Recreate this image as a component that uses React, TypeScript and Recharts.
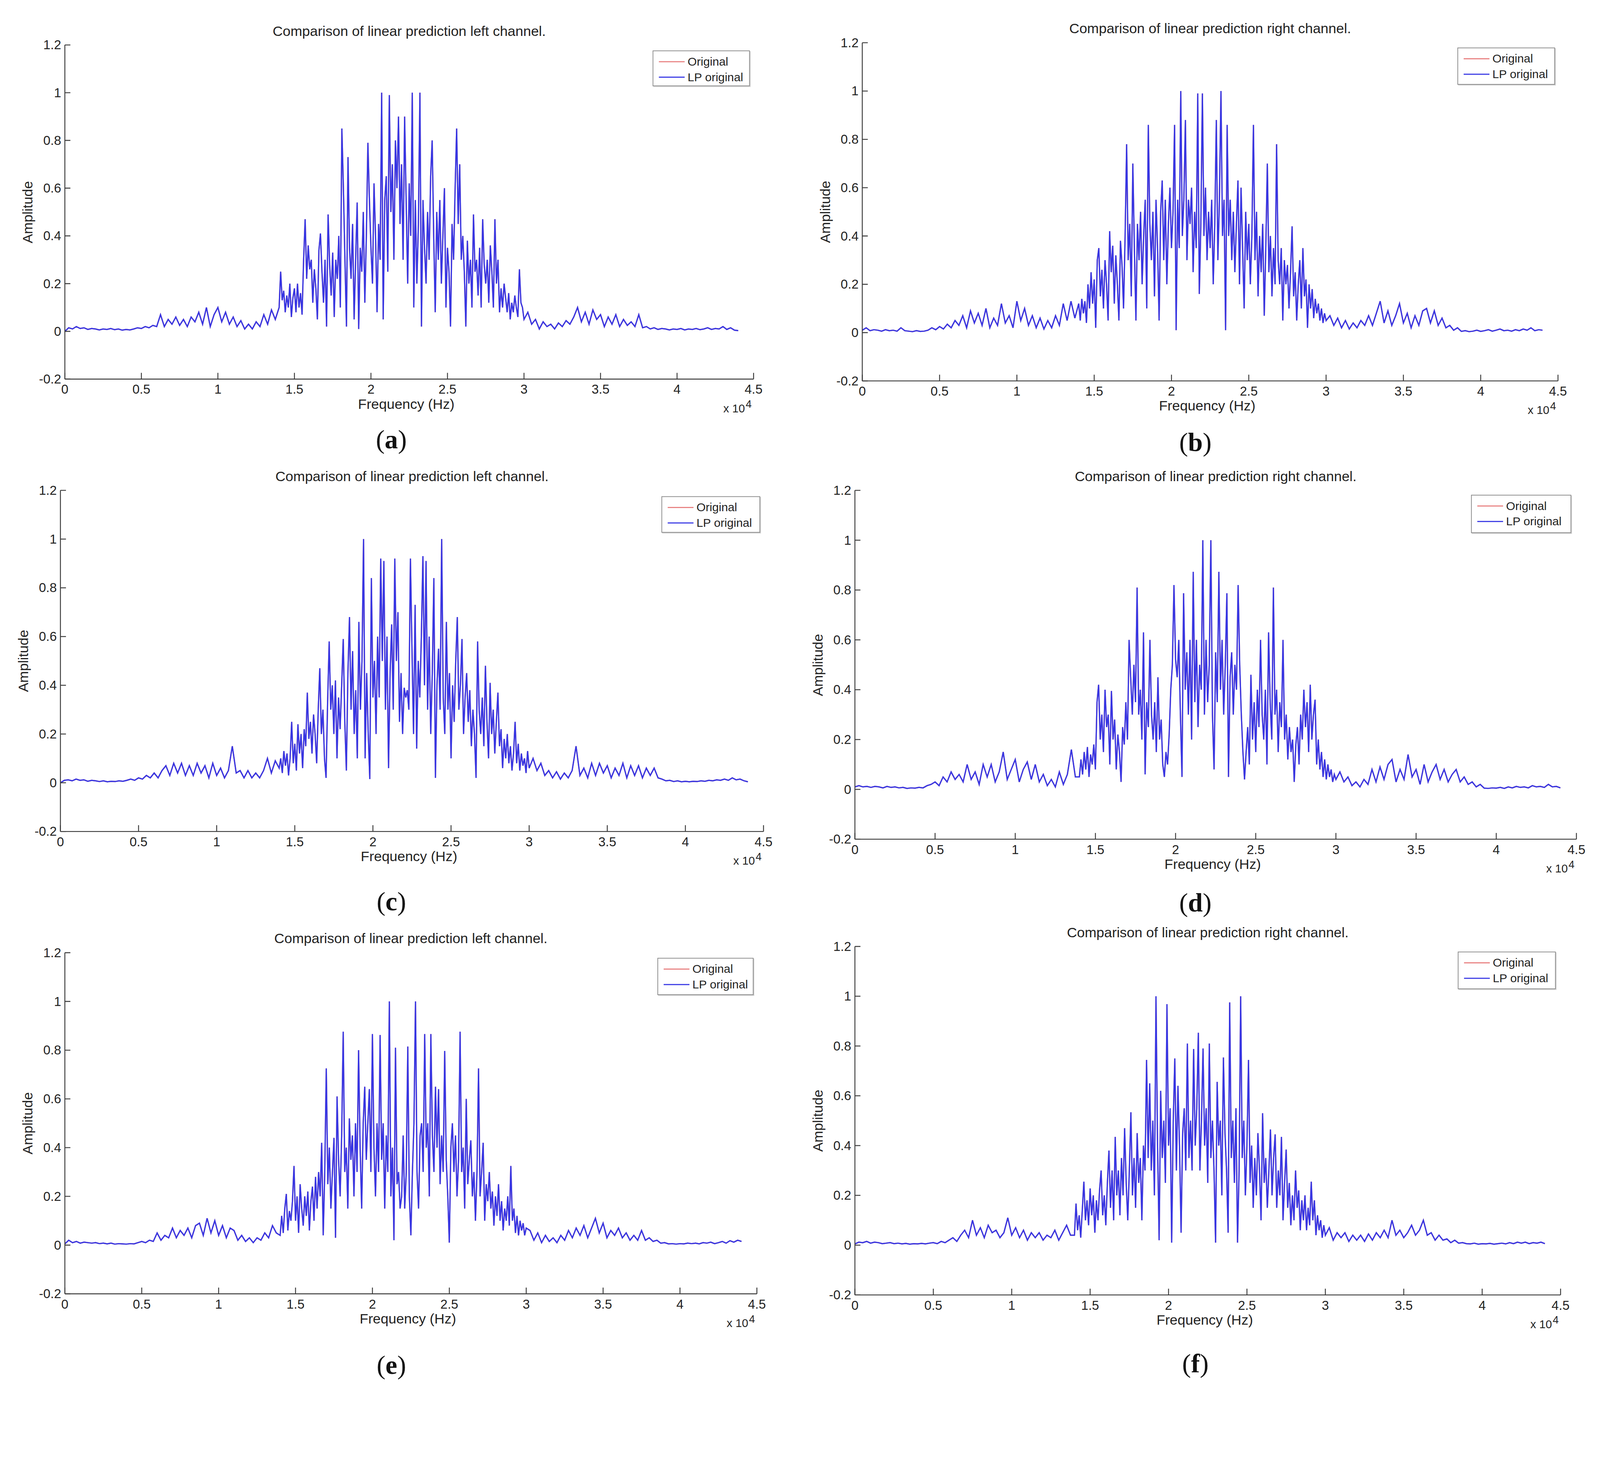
import React from 'react';
import { LineChart, Line, XAxis, YAxis } from 'recharts';

// ---------- tick values and labels ----------
const X_TICKS = [0, 5000, 10000, 15000, 20000, 25000, 30000, 35000, 40000, 45000];
const X_TICK_LABELS = ['0', '0.5', '1', '1.5', '2', '2.5', '3', '3.5', '4', '4.5'];
const Y_TICKS = [-0.2, 0, 0.2, 0.4, 0.6, 0.8, 1, 1.2];
const Y_TICK_LABELS = ['-0.2', '0', '0.2', '0.4', '0.6', '0.8', '1', '1.2'];

const TITLE_LEFT = 'Comparison of linear prediction left channel.';
const TITLE_RIGHT = 'Comparison of linear prediction right channel.';
const X_LABEL = 'Frequency (Hz)';
const Y_LABEL = 'Amplitude';
const LEGEND_NAMES = ['Original', 'LP original'];

// sampling grid (Hz): low tail 0..13750 every 250, core 14000..30000 every 100, high tail 30250..44000 every 250
const LOW_STEP = 250;
const CORE_START = 14000;
const CORE_STEP = 100;
const HIGH_START = 30250;
const HIGH_STEP = 250;

// ---------- (a) left channel ----------
const A_LOW = [0.0,0.015,0.01,0.02,0.012,0.015,0.008,0.012,0.01,0.006,0.01,0.008,0.012,0.007,0.01,0.005,0.008,0.006,0.01,0.015,0.012,0.02,0.015,0.025,0.02,0.07,0.02,0.05,0.03,0.06,0.025,0.05,0.02,0.06,0.04,0.08,0.03,0.1,0.02,0.07,0.1,0.04,0.08,0.03,0.06,0.02,0.045,0.01,0.03,0.01,0.04,0.02,0.07,0.03,0.09,0.05];
const A_CORE = [
  0.1,0.25,0.13,0.17,0.08,0.15,0.1,0.2,0.06,0.14,
  0.18,0.08,0.2,0.1,0.16,0.07,0.3,0.47,0.22,0.36,
  0.26,0.3,0.12,0.26,0.18,0.05,0.34,0.41,0.25,0.12,
  0.3,0.02,0.49,0.28,0.15,0.33,0.06,0.3,0.22,0.4,
  0.1,0.85,0.6,0.3,0.02,0.73,0.35,0.22,0.45,0.05,
  0.3,0.54,0.01,0.35,0.25,0.5,0.12,0.4,0.79,0.55,
  0.35,0.2,0.62,0.4,0.08,0.45,0.3,1.0,0.05,0.55,
  0.65,0.25,0.99,0.5,0.7,0.3,0.8,0.6,0.9,0.45,
  0.7,0.3,0.9,0.55,0.2,0.62,0.4,1.0,0.1,0.55,
  0.2,0.45,1.0,0.02,0.55,0.35,0.2,0.5,0.3,0.65,
  0.8,0.4,0.08,0.5,0.3,0.55,0.2,0.4,0.6,0.1,
  0.35,0.25,0.02,0.45,0.3,0.6,0.85,0.45,0.7,0.3,
  0.4,0.25,0.02,0.38,0.2,0.3,0.1,0.49,0.25,0.3,
  0.15,0.35,0.1,0.47,0.28,0.2,0.3,0.12,0.36,0.25,
  0.1,0.47,0.2,0.3,0.08,0.18,0.1,0.2,0.14,0.08,
  0.16,0.05,0.12,0.08,0.15,0.1,0.06,0.26,0.12,0.1,
  0.05];
const A_HIGH = [0.08,0.03,0.05,0.01,0.04,0.02,0.03,0.01,0.035,0.02,0.045,0.03,0.06,0.1,0.04,0.08,0.03,0.09,0.05,0.07,0.02,0.06,0.03,0.07,0.02,0.05,0.025,0.04,0.02,0.07,0.015,0.02,0.01,0.015,0.008,0.012,0.01,0.006,0.01,0.008,0.012,0.006,0.01,0.008,0.012,0.007,0.01,0.015,0.008,0.012,0.01,0.02,0.008,0.015,0.005,0.003];

// ---------- (b) right channel ----------
const B_LOW = [0.01,0.02,0.008,0.012,0.01,0.006,0.012,0.008,0.01,0.006,0.02,0.008,0.006,0.004,0.008,0.005,0.006,0.01,0.02,0.012,0.025,0.015,0.035,0.02,0.05,0.03,0.07,0.02,0.09,0.04,0.08,0.03,0.1,0.02,0.06,0.03,0.12,0.04,0.07,0.02,0.13,0.05,0.1,0.03,0.07,0.02,0.06,0.015,0.05,0.02,0.07,0.03,0.12,0.05,0.13,0.06];
const B_CORE = [
  0.12,0.05,0.14,0.08,0.13,0.04,0.2,0.1,0.25,0.12,
  0.22,0.02,0.3,0.35,0.15,0.26,0.1,0.3,0.2,0.05,
  0.42,0.25,0.36,0.12,0.32,0.2,0.05,0.38,0.28,0.1,
  0.4,0.78,0.3,0.45,0.15,0.7,0.35,0.05,0.45,0.3,
  0.5,0.2,0.4,0.55,0.1,0.86,0.45,0.3,0.5,0.15,
  0.55,0.35,0.05,0.5,0.63,0.3,0.55,0.2,0.45,0.6,
  0.35,0.5,0.86,0.01,0.55,0.35,1.0,0.4,0.55,0.88,
  0.3,0.55,0.45,0.6,0.25,0.5,0.35,0.99,0.16,0.45,
  0.99,0.4,0.6,0.3,0.5,0.35,0.55,0.2,0.45,0.88,
  0.3,0.55,1.0,0.4,0.55,0.01,0.86,0.4,0.55,0.3,
  0.5,0.25,0.45,0.63,0.2,0.6,0.35,0.1,0.5,0.3,
  0.45,0.2,0.4,0.86,0.3,0.5,0.15,0.4,0.25,0.45,
  0.07,0.35,0.7,0.25,0.4,0.15,0.35,0.2,0.78,0.3,
  0.2,0.35,0.05,0.3,0.2,0.28,0.1,0.25,0.44,0.15,
  0.25,0.05,0.2,0.3,0.1,0.35,0.15,0.22,0.02,0.2,
  0.1,0.18,0.06,0.14,0.08,0.12,0.05,0.1,0.04,0.08,
  0.05];
const B_HIGH = [0.07,0.03,0.06,0.02,0.05,0.015,0.04,0.02,0.05,0.03,0.07,0.03,0.08,0.13,0.04,0.09,0.03,0.07,0.12,0.04,0.08,0.02,0.07,0.03,0.09,0.1,0.04,0.09,0.03,0.06,0.02,0.03,0.01,0.02,0.005,0.008,0.004,0.006,0.01,0.005,0.008,0.012,0.006,0.01,0.015,0.008,0.01,0.006,0.012,0.008,0.015,0.01,0.02,0.008,0.012,0.01];

// ---------- (c) left channel ----------
const C_LOW = [0.0,0.01,0.012,0.008,0.015,0.01,0.012,0.006,0.01,0.008,0.005,0.008,0.004,0.006,0.005,0.008,0.006,0.01,0.015,0.01,0.02,0.015,0.03,0.02,0.04,0.02,0.05,0.07,0.03,0.08,0.04,0.08,0.03,0.07,0.03,0.08,0.04,0.07,0.02,0.08,0.03,0.06,0.02,0.05,0.15,0.04,0.05,0.02,0.05,0.02,0.04,0.02,0.05,0.1,0.04,0.09];
const C_CORE = [
  0.06,0.1,0.04,0.13,0.07,0.12,0.03,0.1,0.25,0.08,
  0.16,0.05,0.24,0.12,0.2,0.06,0.22,0.15,0.37,0.18,
  0.25,0.12,0.28,0.2,0.08,0.3,0.47,0.2,0.3,0.1,
  0.02,0.33,0.58,0.3,0.4,0.2,0.42,0.1,0.35,0.22,
  0.4,0.59,0.25,0.05,0.45,0.68,0.3,0.54,0.2,0.38,
  0.1,0.66,0.3,0.5,1.0,0.1,0.45,0.2,0.015,0.84,
  0.35,0.5,0.2,0.6,0.35,0.92,0.5,0.91,0.3,0.6,
  0.06,0.45,0.65,0.3,0.92,0.5,0.7,0.25,0.45,0.2,
  0.39,0.35,0.38,0.3,0.92,0.55,0.2,0.73,0.14,0.5,
  0.35,0.6,0.93,0.4,0.91,0.3,0.6,0.2,0.45,0.84,
  0.02,0.4,0.55,0.3,1.0,0.35,0.2,0.66,0.3,0.45,
  0.1,0.4,0.25,0.5,0.68,0.3,0.4,0.59,0.2,0.35,
  0.45,0.25,0.38,0.15,0.3,0.2,0.02,0.58,0.3,0.2,
  0.35,0.15,0.48,0.25,0.1,0.41,0.2,0.3,0.12,0.25,
  0.37,0.15,0.22,0.06,0.18,0.1,0.2,0.08,0.15,0.05,
  0.12,0.25,0.08,0.16,0.05,0.12,0.07,0.1,0.04,0.13,
  0.06];
const C_HIGH = [0.1,0.05,0.08,0.03,0.05,0.02,0.045,0.015,0.04,0.02,0.05,0.15,0.03,0.06,0.02,0.08,0.03,0.08,0.04,0.07,0.02,0.06,0.03,0.08,0.02,0.07,0.03,0.07,0.02,0.06,0.03,0.06,0.02,0.015,0.008,0.01,0.005,0.008,0.004,0.006,0.004,0.006,0.005,0.008,0.006,0.01,0.008,0.012,0.01,0.015,0.01,0.02,0.012,0.015,0.008,0.004];

// ---------- (d) right channel ----------
const D_LOW = [0.01,0.015,0.01,0.012,0.008,0.012,0.01,0.006,0.012,0.008,0.01,0.006,0.008,0.004,0.006,0.005,0.008,0.006,0.015,0.02,0.03,0.015,0.05,0.03,0.07,0.04,0.06,0.03,0.1,0.04,0.07,0.02,0.1,0.05,0.1,0.03,0.07,0.15,0.04,0.08,0.12,0.03,0.08,0.11,0.04,0.1,0.03,0.06,0.015,0.04,0.01,0.07,0.02,0.06,0.16,0.05];
const D_CORE = [
  0.05,0.12,0.06,0.15,0.08,0.17,0.05,0.14,0.1,0.18,
  0.08,0.35,0.42,0.2,0.3,0.15,0.4,0.25,0.3,0.1,
  0.395,0.2,0.28,0.08,0.22,0.15,0.03,0.25,0.18,0.35,
  0.2,0.6,0.45,0.3,0.5,0.35,0.81,0.3,0.4,0.2,
  0.63,0.06,0.35,0.25,0.6,0.3,0.2,0.35,0.15,0.45,
  0.2,0.28,0.1,0.05,0.15,0.1,0.22,0.4,0.5,0.82,
  0.52,0.45,0.6,0.3,0.05,0.787,0.4,0.55,0.3,0.6,
  0.2,0.873,0.35,0.6,0.25,0.5,0.4,1.0,0.3,0.6,
  0.35,0.5,1.0,0.3,0.08,0.55,0.35,0.873,0.4,0.6,
  0.3,0.5,0.787,0.05,0.45,0.55,0.3,0.5,0.4,0.82,
  0.5,0.3,0.15,0.04,0.15,0.25,0.1,0.46,0.2,0.35,
  0.15,0.4,0.25,0.6,0.3,0.2,0.4,0.1,0.63,0.35,
  0.2,0.81,0.3,0.4,0.15,0.35,0.25,0.6,0.2,0.3,
  0.12,0.25,0.15,0.2,0.03,0.18,0.25,0.1,0.3,0.2,
  0.4,0.25,0.35,0.15,0.42,0.2,0.3,0.36,0.1,0.2,
  0.08,0.15,0.05,0.12,0.04,0.1,0.05,0.08,0.03,0.06,
  0.04];
const D_HIGH = [0.07,0.03,0.05,0.015,0.03,0.01,0.04,0.02,0.08,0.03,0.09,0.04,0.1,0.12,0.03,0.08,0.04,0.14,0.05,0.08,0.02,0.1,0.03,0.07,0.1,0.04,0.08,0.03,0.06,0.08,0.03,0.05,0.02,0.03,0.01,0.02,0.005,0.004,0.006,0.005,0.008,0.004,0.01,0.006,0.012,0.008,0.01,0.006,0.015,0.01,0.012,0.008,0.02,0.01,0.012,0.006];

// ---------- (e) left channel ----------
const E_LOW = [0.005,0.02,0.01,0.015,0.008,0.012,0.01,0.008,0.01,0.006,0.008,0.005,0.008,0.004,0.006,0.005,0.004,0.006,0.005,0.01,0.015,0.01,0.02,0.015,0.05,0.02,0.04,0.03,0.07,0.03,0.06,0.04,0.07,0.03,0.08,0.09,0.04,0.11,0.05,0.1,0.04,0.08,0.03,0.07,0.06,0.02,0.04,0.015,0.03,0.01,0.03,0.02,0.05,0.03,0.08,0.05];
const E_CORE = [
  0.04,0.12,0.05,0.15,0.21,0.06,0.14,0.1,0.18,0.325,
  0.1,0.2,0.05,0.25,0.15,0.08,0.2,0.12,0.22,0.06,
  0.18,0.24,0.1,0.28,0.15,0.3,0.2,0.42,0.04,0.3,
  0.725,0.25,0.4,0.15,0.3,0.44,0.03,0.61,0.35,0.2,
  0.45,0.876,0.3,0.4,0.15,0.52,0.35,0.45,0.2,0.5,
  0.3,0.8,0.4,0.15,0.5,0.65,0.35,0.5,0.64,0.3,
  0.866,0.4,0.2,0.5,0.3,0.862,0.35,0.5,0.15,0.45,
  0.3,1.0,0.2,0.4,0.02,0.81,0.25,0.3,0.15,0.2,
  0.45,0.15,0.3,0.815,0.2,0.04,0.3,0.5,1.0,0.3,
  0.15,0.45,0.5,0.3,0.866,0.4,0.5,0.2,0.866,0.45,
  0.3,0.65,0.4,0.64,0.25,0.45,0.3,0.797,0.35,0.2,
  0.01,0.4,0.5,0.3,0.45,0.2,0.35,0.876,0.3,0.4,
  0.15,0.6,0.25,0.35,0.43,0.2,0.3,0.1,0.3,0.725,
  0.2,0.3,0.42,0.1,0.25,0.18,0.3,0.15,0.22,0.08,
  0.2,0.12,0.25,0.1,0.18,0.06,0.15,0.1,0.2,0.08,
  0.325,0.1,0.15,0.05,0.12,0.04,0.1,0.06,0.09,0.04,
  0.07];
const E_HIGH = [0.06,0.02,0.05,0.01,0.04,0.015,0.03,0.01,0.04,0.02,0.06,0.03,0.07,0.04,0.08,0.03,0.07,0.11,0.05,0.09,0.03,0.06,0.04,0.07,0.03,0.05,0.02,0.04,0.02,0.06,0.02,0.03,0.015,0.02,0.008,0.01,0.005,0.006,0.004,0.006,0.005,0.008,0.006,0.008,0.005,0.01,0.008,0.012,0.006,0.01,0.015,0.008,0.018,0.012,0.02,0.015];

// ---------- (f) right channel ----------
const F_LOW = [0.005,0.012,0.01,0.015,0.008,0.012,0.01,0.006,0.008,0.01,0.006,0.008,0.005,0.007,0.004,0.006,0.005,0.007,0.005,0.008,0.01,0.006,0.015,0.01,0.02,0.03,0.015,0.04,0.06,0.03,0.1,0.04,0.07,0.03,0.08,0.05,0.06,0.03,0.05,0.11,0.04,0.07,0.03,0.06,0.02,0.05,0.03,0.05,0.02,0.04,0.03,0.06,0.02,0.05,0.08,0.04];
const F_CORE = [
  0.04,0.167,0.06,0.12,0.03,0.14,0.255,0.1,0.18,0.08,
  0.228,0.12,0.2,0.05,0.18,0.1,0.22,0.3,0.12,0.2,
  0.08,0.25,0.38,0.15,0.3,0.1,0.435,0.2,0.3,0.12,
  0.35,0.2,0.47,0.25,0.1,0.3,0.534,0.2,0.35,0.15,
  0.45,0.25,0.35,0.1,0.4,0.3,0.744,0.35,0.65,0.3,
  0.5,0.2,1.0,0.4,0.02,0.62,0.35,0.5,0.25,0.968,
  0.4,0.55,0.01,0.5,0.75,0.3,0.64,0.4,0.05,0.45,
  0.55,0.3,0.81,0.35,0.5,0.3,0.788,0.4,0.55,0.853,
  0.3,0.5,0.79,0.4,0.55,0.25,0.81,0.35,0.5,0.3,
  0.01,0.656,0.4,0.5,0.2,0.754,0.45,0.3,0.05,0.975,
  0.35,0.5,0.25,0.55,0.01,0.3,1.0,0.35,0.5,0.2,
  0.4,0.744,0.25,0.4,0.15,0.35,0.2,0.45,0.3,0.1,
  0.53,0.25,0.35,0.15,0.3,0.465,0.2,0.35,0.445,0.15,
  0.3,0.2,0.435,0.1,0.25,0.384,0.15,0.25,0.08,0.2,
  0.1,0.3,0.15,0.22,0.06,0.18,0.1,0.2,0.06,0.15,
  0.08,0.255,0.1,0.18,0.04,0.12,0.06,0.1,0.03,0.08,
  0.04];
const F_HIGH = [0.07,0.02,0.05,0.03,0.05,0.015,0.04,0.02,0.04,0.015,0.045,0.02,0.05,0.03,0.06,0.03,0.1,0.04,0.06,0.03,0.05,0.08,0.04,0.06,0.1,0.04,0.05,0.02,0.04,0.02,0.025,0.01,0.02,0.008,0.01,0.006,0.005,0.008,0.004,0.006,0.005,0.007,0.004,0.006,0.008,0.005,0.01,0.006,0.012,0.008,0.012,0.006,0.01,0.008,0.012,0.006];

type Row = { f: number; lp: number; orig: number };

function buildSeries(low: number[], core: number[], high: number[]): Row[] {
  const rows: Row[] = [];
  low.forEach((v, i) => rows.push({ f: i * LOW_STEP, lp: v, orig: v }));
  core.forEach((v, i) => rows.push({ f: CORE_START + i * CORE_STEP, lp: v, orig: v }));
  high.forEach((v, i) => rows.push({ f: HIGH_START + i * HIGH_STEP, lp: v, orig: v }));
  return rows;
}

// ---------- layout (design pixels, 4342 x 3759 page) ----------
const PAGE_W = 4342;
const PAGE_H = 3759;
const PANELS = [
  { id: 'a', title: TITLE_LEFT, data: buildSeries(A_LOW, A_CORE, A_HIGH), L: 176, R: 2045, T: 122, B: 1029, titleY: 85, capX: 1062, capY: 1193, leg: { x: 1771, y: 137, w: 264, h: 97 } },
  { id: 'b', title: TITLE_RIGHT, data: buildSeries(B_LOW, B_CORE, B_HIGH), L: 2340, R: 4228, T: 116, B: 1034, titleY: 78, capX: 3244, capY: 1201, leg: { x: 3955, y: 129, w: 265, h: 101 } },
  { id: 'c', title: TITLE_LEFT, data: buildSeries(C_LOW, C_CORE, C_HIGH), L: 164, R: 2072, T: 1331, B: 2257, titleY: 1294, capX: 1062, capY: 2447, leg: { x: 1795, y: 1347, w: 268, h: 99 } },
  { id: 'd', title: TITLE_RIGHT, data: buildSeries(D_LOW, D_CORE, D_HIGH), L: 2320, R: 4278, T: 1331, B: 2278, titleY: 1293, capX: 3244, capY: 2451, leg: { x: 3992, y: 1343, w: 272, h: 104 } },
  { id: 'e', title: TITLE_LEFT, data: buildSeries(E_LOW, E_CORE, E_HIGH), L: 176, R: 2054, T: 2586, B: 3512, titleY: 2548, capX: 1062, capY: 3706, leg: { x: 1784, y: 2600, w: 261, h: 101 } },
  { id: 'f', title: TITLE_RIGHT, data: buildSeries(F_LOW, F_CORE, F_HIGH), L: 2320, R: 4235, T: 2569, B: 3515, titleY: 2532, capX: 3244, capY: 3702, leg: { x: 3956, y: 2583, w: 266, h: 102 } },
];

const SANS = '"Liberation Sans", Arial, Helvetica, sans-serif';
const SERIF = '"Liberation Serif", "Times New Roman", serif';
const AXIS_COLOR = '#3a3a3a';
const TEXT_COLOR = '#222';
const BLUE = '#3636e4';
const RED = '#e88080';
const ML = 170, MR = 40, MT = 40, MB = 70;

const XTick = (props: any) => {
  const { x, y, payload } = props;
  const idx = X_TICKS.indexOf(payload.value);
  return (
    <g>
      <line x1={x} x2={x} y1={y} y2={y - 17} stroke={AXIS_COLOR} strokeWidth={2.5} />
      <text x={x} y={y + 40} textAnchor="middle" fontSize={35} fontFamily={SANS} fill={TEXT_COLOR}>
        {idx >= 0 ? X_TICK_LABELS[idx] : ''}
      </text>
    </g>
  );
};

const YTick = (props: any) => {
  const { x, y, payload } = props;
  const idx = Y_TICKS.indexOf(payload.value);
  return (
    <g>
      <line x1={x} x2={x + 15} y1={y} y2={y} stroke={AXIS_COLOR} strokeWidth={2.5} />
      <text x={x - 10} y={y + 12} textAnchor="end" fontSize={35} fontFamily={SANS} fill={TEXT_COLOR}>
        {idx >= 0 ? Y_TICK_LABELS[idx] : ''}
      </text>
    </g>
  );
};

const abs = (extra: React.CSSProperties): React.CSSProperties => ({ position: 'absolute', whiteSpace: 'nowrap', ...extra });

function Panel({ p }: { p: (typeof PANELS)[number] }) {
  const w = p.R - p.L + ML + MR;
  const h = p.B - p.T + MT + MB;
  const cx = (p.L + p.R) / 2;
  const cy = (p.T + p.B) / 2;
  return (
    <>
      <div style={abs({ left: p.L - ML, top: p.T - MT })}>
        <LineChart width={w} height={h} data={p.data} margin={{ top: MT, right: MR, bottom: MB - 1, left: ML - 1 }}>
          <XAxis
            dataKey="f"
            type="number"
            domain={[0, 45000]}
            ticks={X_TICKS}
            interval={0}
            allowDataOverflow
            height={1}
            tickSize={0}
            tickMargin={0}
            tickLine={false}
            tick={(tp: any) => <XTick {...tp} />}
            axisLine={{ stroke: AXIS_COLOR, strokeWidth: 2.5 }}
          />
          <YAxis
            type="number"
            domain={[-0.2, 1.2]}
            ticks={Y_TICKS}
            interval={0}
            allowDataOverflow
            width={1}
            tickSize={0}
            tickMargin={0}
            tickLine={false}
            tick={(tp: any) => <YTick {...tp} />}
            axisLine={{ stroke: AXIS_COLOR, strokeWidth: 2.5 }}
          />
          <Line name={LEGEND_NAMES[0]} dataKey="orig" type="linear" stroke={RED} strokeWidth={3.4} dot={false} activeDot={false} isAnimationActive={false} />
          <Line name={LEGEND_NAMES[1]} dataKey="lp" type="linear" stroke={BLUE} strokeWidth={3.4} dot={false} activeDot={false} isAnimationActive={false} />
        </LineChart>
      </div>
      <div style={abs({ left: cx, top: p.titleY, transform: 'translate(-50%, -50%)', fontFamily: SANS, fontSize: 38, color: TEXT_COLOR })}>{p.title}</div>
      <div style={abs({ left: p.L - 100, top: cy, transform: 'translate(-50%, -50%) rotate(-90deg)', fontFamily: SANS, fontSize: 38, color: TEXT_COLOR })}>{Y_LABEL}</div>
      <div style={abs({ left: cx - 8, top: p.B + 68, transform: 'translate(-50%, -50%)', fontFamily: SANS, fontSize: 38, color: TEXT_COLOR })}>{X_LABEL}</div>
      <div style={abs({ left: p.R - 82, top: p.B + 60, fontFamily: SANS, fontSize: 31, color: TEXT_COLOR, lineHeight: '40px' })}>
        x 10<span style={{ position: 'relative', top: -12, marginLeft: 2, fontSize: 29 }}>4</span>
      </div>
      <div style={abs({ left: p.leg.x, top: p.leg.y, width: p.leg.w, height: p.leg.h, boxSizing: 'border-box', border: '2px solid #8a8a8a', background: '#fff', boxShadow: '2px 2px 0 #d0d0d0' })}>
        {LEGEND_NAMES.map((name, i) => (
          <div key={name} style={abs({ left: 15, top: i === 0 ? 8 : 50, height: 40, display: 'flex', alignItems: 'center' })}>
            <div style={{ width: 70, height: 0, borderTop: `3px solid ${i === 0 ? RED : BLUE}` }} />
            <div style={{ marginLeft: 8, fontFamily: SANS, fontSize: 32, color: TEXT_COLOR }}>{name}</div>
          </div>
        ))}
      </div>
      <div style={abs({ left: p.capX, top: p.capY, transform: 'translate(-50%, -50%)', fontFamily: SERIF, fontSize: 72, color: '#111' })}>
        (<b>{p.id}</b>)
      </div>
    </>
  );
}

export default function App() {
  // fit the fixed 4342x3759 design into whatever viewport the page really gets
  const vw = typeof window !== 'undefined' ? window.innerWidth : PAGE_W;
  const vh = typeof window !== 'undefined' ? window.innerHeight : PAGE_H;
  const s = Math.min(vw / PAGE_W, vh / PAGE_H, 1);
  return (
    <div style={{ position: 'absolute', left: 0, top: 0, width: PAGE_W * s, height: PAGE_H * s, overflow: 'hidden', background: '#fff' }}>
      <div style={{ position: 'absolute', left: 0, top: 0, width: PAGE_W, height: PAGE_H, background: '#fff', transform: `scale(${s})`, transformOrigin: '0 0' }}>
        {PANELS.map((p) => (
          <Panel key={p.id} p={p} />
        ))}
      </div>
    </div>
  );
}
